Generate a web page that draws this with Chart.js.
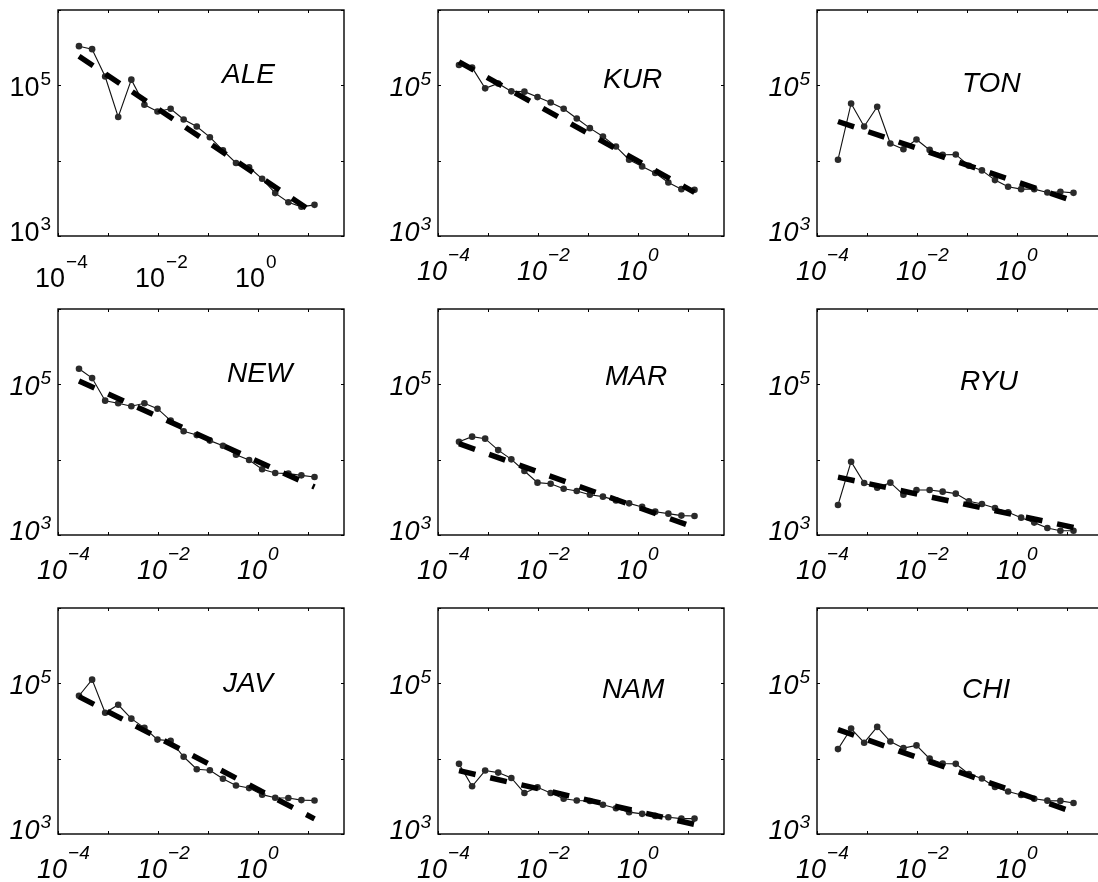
<!DOCTYPE html>
<html>
<head>
<meta charset="utf-8">
<script src="https://cdn.jsdelivr.net/npm/chart.js@4/dist/chart.umd.min.js"></script>
<style>
  html, body { margin: 0; padding: 0; background: #fff; overflow: hidden; }
  #wrap { position: relative; width: 1098px; height: 882px; overflow: hidden; }
  .cell { position: absolute; }
</style>
</head>
<body>
<div id="wrap"></div>
<script>
// panel names
const names = ["ALE", "KUR", "TON", "NEW", "MAR", "RYU", "JAV", "NAM", "CHI"];

// shared x values (log spaced bins)
const xVals = [2.63e-4, 4.81e-4, 8.77e-4, 1.60e-3, 2.93e-3, 5.35e-3, 9.77e-3, 1.79e-2, 3.26e-2,
  5.96e-2, 0.109, 0.199, 0.363, 0.664, 1.21, 2.21, 4.05, 7.38, 13.5];

const yALE = [331000, 302000, 131000, 38000, 119000, 55200, 45000, 48900, 35200, 28400,
  20500, 13700, 9310, 8150, 5750, 3710, 2810, 2440, 2590];
const yKUR = [186000, 172000, 91200, 106000, 83200, 82400, 69800, 59300, 48900, 36300,
  27000, 20900, 15400, 10300, 8390, 6850, 5140, 4190, 4100];
const yTON = [10300, 57500, 28400, 52000, 16900, 14200, 19100, 13900, 12000, 12100,
  8570, 7430, 5520, 4500, 4190, 4190, 3780, 3860, 3740];
const yNEW = [161000, 121000, 60700, 56000, 51100, 56000, 47500, 33000, 23800, 21200,
  17900, 15300, 11600, 9910, 7450, 6650, 6520, 6190, 5890];
const yMAR = [17300, 20200, 19000, 13400, 10100, 7080, 4950, 4800, 4120, 3840,
  3430, 3230, 2880, 2630, 2360, 2040, 1920, 1810, 1790];
const yRYU = [2500, 9400, 4900, 4250, 4950, 3430, 3950, 3950, 3760, 3540,
  2800, 2580, 2280, 2000, 1700, 1460, 1240, 1140, 1140];
const yJAV = [68400, 112000, 40600, 51900, 34000, 25600, 17900, 17300, 10600, 7240,
  7020, 5420, 4410, 4070, 3330, 3030, 3000, 2820, 2790];
const yNAM = [8530, 4300, 6950, 6530, 5550, 3500, 4160, 3500, 2940, 2790,
  2740, 2440, 2200, 1950, 1850, 1740, 1670, 1600, 1600];
const yCHI = [13400, 25100, 16300, 26400, 16900, 13800, 15000, 10000, 8610, 8530,
  6270, 5460, 4220, 3660, 3300, 2940, 2770, 2750, 2580];

// power-law fit, value at first and last x
const fitX = [2.63e-4, 13.5];
const fitALE = [243000, 2000];
const fitKUR = [205000, 3800];
const fitTON = [33100, 2910];
const fitNEW = [111000, 4340];
const fitMAR = [16300, 1260];
const fitRYU = [5860, 1260];
const fitJAV = [66700, 1590];
const fitNAM = [6930, 1340];
const fitCHI = [24300, 1950];

// tick labels (exponents of 10)
const xTickExps = ["\u22124", "\u22122", "0"];
const xTickVals = [1e-4, 1e-2, 1];
const yTickExps = ["3", "5"];
const yTickVals = [1e3, 1e5];
const xTickMarks = [1e-4, 1e-3, 1e-2, 1e-1, 1, 10];
const yTickMarks = [1e3, 1e4, 1e5, 1e6];

const series = [yALE, yKUR, yTON, yNEW, yMAR, yRYU, yJAV, yNAM, yCHI];
const fits = [fitALE, fitKUR, fitTON, fitNEW, fitMAR, fitRYU, fitJAV, fitNAM, fitCHI];

// layout
const colLeft = [58, 438, 817];
const rowTop = [10, 309, 608];
const BOX_W = 286, BOX_H = 226;
const PAD_L = 58, PAD_T = 10, CV_W = 380, CV_H = 296;
const titlePos = [[164, 73], [165, 78], [145, 82], [169, 73], [167, 76], [143, 81], [165, 84], [164, 90], [145, 90]];
const yLabelDy = [5, 11];
const FAMILY = '"Liberation Sans", Arial, Helvetica, sans-serif';

function drawPow(ctx, x, y, exp, style, supRise) {
  ctx.font = style + " 27px " + FAMILY;
  ctx.textAlign = "left";
  ctx.fillText("10", x, y);
  const w = ctx.measureText("10").width;
  ctx.font = style + " 19px " + FAMILY;
  ctx.fillText(exp, x + w + 1, y - supRise);
  return w + 1 + ctx.measureText(exp).width;
}

const framePlugin = {
  id: "frame",
  afterDraw(chart) {
    const opts = chart.options.plugins.frame;
    const ctx = chart.ctx, a = chart.chartArea;
    const sx = chart.scales.x, sy = chart.scales.y;
    ctx.save();
    ctx.fillStyle = "#000";
    ctx.strokeStyle = "#000";
    ctx.lineWidth = 1.4;
    ctx.strokeRect(a.left, a.top, a.right - a.left, a.bottom - a.top);
    ctx.lineWidth = 1;
    ctx.beginPath();
    xTickMarks.forEach(v => {
      const px = Math.round(sx.getPixelForValue(v)) + 0.5;
      ctx.moveTo(px, a.bottom); ctx.lineTo(px, a.bottom - 3);
      ctx.moveTo(px, a.top); ctx.lineTo(px, a.top + 3);
    });
    yTickMarks.forEach(v => {
      const py = Math.round(sy.getPixelForValue(v)) + 0.5;
      ctx.moveTo(a.left, py); ctx.lineTo(a.left + 3, py);
      ctx.moveTo(a.right, py); ctx.lineTo(a.right - 3, py);
    });
    ctx.stroke();

    const style = opts.italic ? "italic" : "normal";
    const xDy = opts.italic ? 44 : 51;
    ctx.textBaseline = "alphabetic";
    xTickVals.forEach((v, k) => {
      const px = sx.getPixelForValue(v);
      drawPow(ctx, px - (opts.italic ? 21 : 23), a.bottom + xDy, xTickExps[k], style, 19);
    });
    yTickVals.forEach((v, k) => {
      const py = sy.getPixelForValue(v);
      ctx.font = style + " 27px " + FAMILY;
      const w1 = ctx.measureText("10").width;
      ctx.font = style + " 19px " + FAMILY;
      const w2 = ctx.measureText(yTickExps[k]).width;
      drawPow(ctx, a.left - 7 - (w1 + 1 + w2), py + yLabelDy[k], yTickExps[k], style, 11);
    });

    ctx.font = "italic 28px " + FAMILY;
    ctx.fillText(opts.title, a.left + opts.tx, a.top + opts.ty);
    ctx.restore();
  }
};

const wrap = document.getElementById("wrap");
names.forEach((name, i) => {
  const col = i % 3, row = Math.floor(i / 3);
  const div = document.createElement("div");
  div.className = "cell";
  div.style.left = (colLeft[col] - PAD_L) + "px";
  div.style.top = (rowTop[row] - PAD_T) + "px";
  const cv = document.createElement("canvas");
  cv.width = CV_W; cv.height = CV_H;
  div.appendChild(cv);
  wrap.appendChild(div);

  new Chart(cv, {
    type: "line",
    data: {
      datasets: [
        {
          data: fits[i].map((v, k) => ({ x: fitX[k], y: v })),
          borderColor: "#000",
          borderWidth: 5.5,
          borderDash: [17, 15],
          borderCapStyle: "butt",
          pointRadius: 0,
          order: 0
        },
        {
          data: series[i].map((v, k) => ({ x: xVals[k], y: v })),
          borderColor: "#111",
          borderWidth: 1.1,
          pointRadius: 3.3,
          pointBackgroundColor: "#2a2a2a",
          pointBorderColor: "#2a2a2a",
          pointBorderWidth: 0,
          order: 1
        }
      ]
    },
    options: {
      responsive: false,
      animation: false,
      devicePixelRatio: 1,
      layout: { padding: { left: PAD_L, top: PAD_T, right: CV_W - PAD_L - BOX_W, bottom: CV_H - PAD_T - BOX_H } },
      scales: {
        x: { type: "logarithmic", min: 1e-4, max: 52.5, display: false },
        y: { type: "logarithmic", min: 1e3, max: 1e6, display: false }
      },
      plugins: {
        legend: { display: false },
        tooltip: { enabled: false },
        frame: { title: name, italic: i > 0, tx: titlePos[i][0], ty: titlePos[i][1] }
      }
    },
    plugins: [framePlugin]
  });
});
</script>
</body>
</html>
